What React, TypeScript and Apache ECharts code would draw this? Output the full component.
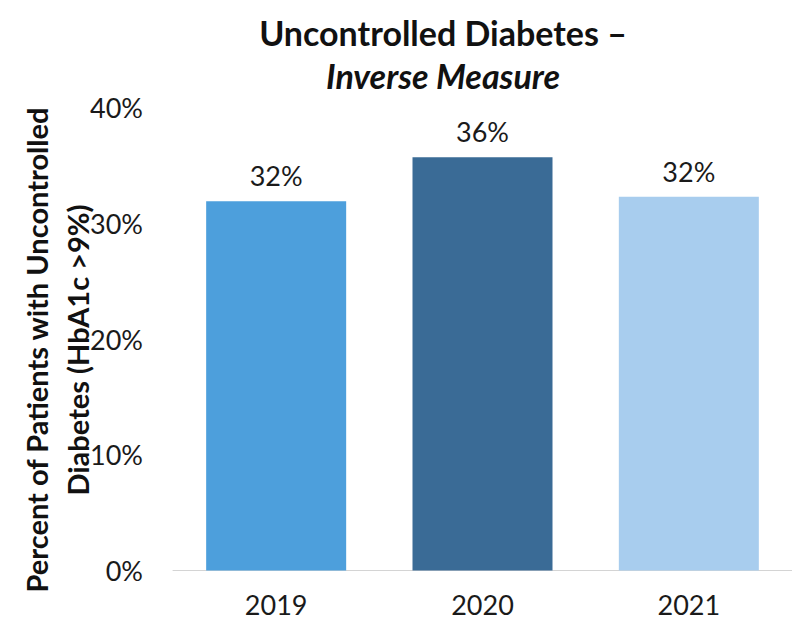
import React, { useEffect, useRef } from "react";
import * as echarts from "echarts";

const categories = ["2019", "2020", "2021"];
const values = [31.9, 35.7, 32.3];
const barColors = ["#4d9fdc", "#3a6b96", "#a8cdee"];
const yTicks = [0, 10, 20, 30, 40];
const titleLine1 = "Uncontrolled Diabetes –";
const titleLine2 = "Inverse Measure";
const yTitleLine1 = "Percent of Patients with Uncontrolled";
const yTitleLine2 = "Diabetes (HbA1c >9%)";

const FONT = "Lato, 'Noto Sans', sans-serif";

export default function App() {
  const ref = useRef<HTMLDivElement>(null);
  useEffect(() => {
    if (!ref.current) return;
    const chart = echarts.init(ref.current, undefined, { renderer: "svg" });
    chart.setOption({
      animation: false,
      backgroundColor: "#ffffff",
      title: {
        text: `{a|${titleLine1}}\n{b|${titleLine2}}`,
        left: 438,
        top: 6,
        textAlign: "center",
        textStyle: {
          rich: {
            a: { fontFamily: FONT, fontWeight: "bold", fontSize: 34, color: "#111", lineHeight: 43 },
            b: { fontFamily: FONT, fontWeight: "bold", fontStyle: "italic", fontSize: 34, color: "#111", lineHeight: 43 },
          },
        },
      },
      graphic: [
        {
          type: "text",
          x: 57,
          y: 350,
          rotation: Math.PI / 2,
          style: {
            text: `${yTitleLine1}\n${yTitleLine2}`,
            fontFamily: FONT,
            fontWeight: "bold",
            fontSize: 29,
            lineHeight: 41,
            fill: "#111",
            align: "center",
            verticalAlign: "middle",
          },
        },
      ],
      grid: { left: 173, right: -6, top: 107.5, bottom: 52.5 },
      xAxis: {
        type: "category",
        data: categories,
        axisLine: { lineStyle: { color: "#d4d4d4", width: 1 } },
        axisTick: { show: false },
        axisLabel: { fontFamily: FONT, fontSize: 27, color: "#1a1a1a", margin: 20 },
      },
      yAxis: {
        type: "value",
        min: yTicks[0],
        max: yTicks[yTicks.length - 1],
        interval: 10,
        splitLine: { show: false },
        axisLine: { show: false },
        axisTick: { show: false },
        axisLabel: {
          fontFamily: FONT,
          fontSize: 27,
          color: "#1a1a1a",
          margin: 30,
          formatter: (v: number) => `${v}%`,
        },
      },
      series: [
        {
          type: "bar",
          barWidth: 140,
          data: values.map((v, i) => ({ value: v, itemStyle: { color: barColors[i] } })),
          label: {
            show: true,
            position: "top",
            distance: 12,
            fontFamily: FONT,
            fontSize: 27,
            color: "#1a1a1a",
            formatter: (p: any) => `${Math.round(p.value)}%`,
          },
        },
      ],
    });
    return () => chart.dispose();
  }, []);
  return <div ref={ref} style={{ width: 792, height: 623, position: "absolute", left: 0, top: 0 }} />;
}
